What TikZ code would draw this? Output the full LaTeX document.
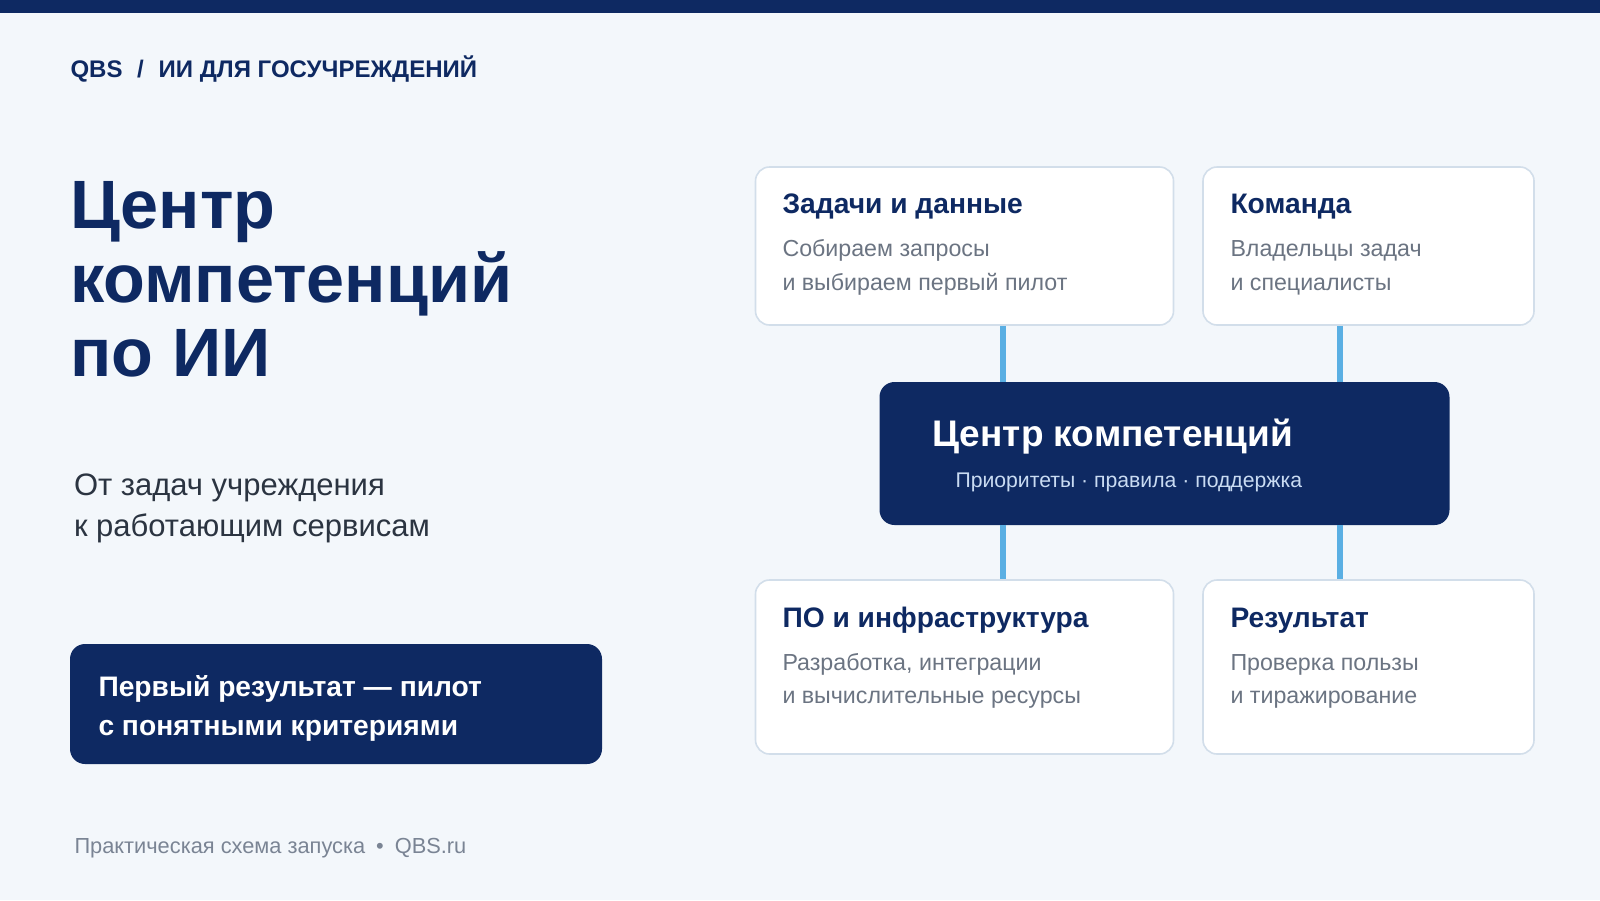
\documentclass[tikz,border=0pt]{standalone}
\usepackage{fontspec}
\setmainfont{Liberation Sans}
\definecolor{navy}{HTML}{0E2962}
\definecolor{bgc}{HTML}{F3F7FB}
\definecolor{edge}{HTML}{D2DEEA}
\definecolor{linkc}{HTML}{5AAFE3}
\definecolor{greytx}{HTML}{6B7482}
\definecolor{subtx}{HTML}{2B3441}
\definecolor{foottx}{HTML}{7A8494}
\definecolor{paletx}{HTML}{C9DBF2}
\newcommand{\fs}[2]{\fontsize{#1}{#2}\selectfont}
\begin{document}
\begin{tikzpicture}[x=1pt,y=-1pt,
  card/.style={draw=edge,line width=1.6pt,fill=white,rounded corners=14pt,inner sep=0pt},
  darkbox/.style={fill=navy,rounded corners=15pt,inner sep=0pt},
  link/.style={draw=linkc,line width=5.5pt},
  txt/.style={anchor=base west,inner sep=0pt,outer sep=0pt},
  cardtitle/.style={txt,text=navy,font=\bfseries\fs{28.2}{32}},
  cardtext/.style={txt,text=greytx,font=\fs{23.2}{27}}]
\useasboundingbox (0,0) rectangle (1600,900);
\fill[bgc] (0,0) rectangle (1600,900);
\fill[navy] (0,0) rectangle (1600,12.5);

% breadcrumb
\node[txt,text=navy,font=\bfseries\fs{24}{28}] (crumb) at (70.5,77) {QBS\hspace{14.5pt}/\hspace{15pt}ИИ ДЛЯ ГОСУЧРЕЖДЕНИЙ};

% title
\node[txt,text=navy,font=\bfseries\fs{68.4}{76}] (ttl1) at (70,228) {Центр};
\node[txt,text=navy,font=\bfseries\fs{68.4}{76}] (ttl2) at (70,302) {компетенций};
\node[txt,text=navy,font=\bfseries\fs{68.4}{76}] (ttl3) at (70,376) {по ИИ};

% subtitle
\node[txt,text=subtx,font=\fs{31}{36}] (sub1) at (74,495) {От задач учреждения};
\node[txt,text=subtx,font=\fs{31}{36}] (sub2) at (74,536) {к работающим сервисам};

% left dark box
\node[darkbox,minimum width=532pt,minimum height=120pt] (pilot) at (336,704) {};
\node[txt,text=white,font=\bfseries\fs{28.2}{32}] (pil1) at (98.5,696) {Первый результат — пилот};
\node[txt,text=white,font=\bfseries\fs{28.2}{32}] (pil2) at (98.5,735) {с понятными критериями};

% footer
\node[txt,text=foottx,font=\fs{21.8}{26}] (foot) at (74.5,853) {Практическая схема запуска\hspace{11pt}•\hspace{11pt}QBS.ru};

% cards
\node[card,minimum width=418pt,minimum height=158pt] (tasks) at (964.5,246) {};
\node[card,minimum width=331pt,minimum height=158pt] (team) at (1368.5,246) {};
\node[card,minimum width=418pt,minimum height=174pt] (infra) at (964.5,667) {};
\node[card,minimum width=331pt,minimum height=174pt] (result) at (1368.5,667) {};
\node[darkbox,minimum width=570pt,minimum height=143pt] (core) at (1164.5,453.5) {};

% connectors
\coordinate (xl) at (1003,0);
\coordinate (xr) at (1340,0);
\draw[link] (tasks.south -| xl) -- (core.north -| xl);
\draw[link] (team.south -| xr) -- (core.north -| xr);
\draw[link] (core.south -| xl) -- (infra.north -| xl);
\draw[link] (core.south -| xr) -- (result.north -| xr);

% card texts
\node[cardtitle] (tasksT) at (782.5,213) {Задачи и данные};
\node[cardtext] (tasks1) at (782.5,256) {Собираем запросы};
\node[cardtext] (tasks2) at (782.5,290) {и выбираем первый пилот};

\node[cardtitle] (teamT) at (1230.5,213) {Команда};
\node[cardtext] (team1) at (1230.5,256) {Владельцы задач};
\node[cardtext] (team2) at (1230.5,290) {и специалисты};

\node[cardtitle] (infraT) at (782.5,627) {ПО и инфраструктура};
\node[cardtext] (infra1) at (782.5,670) {Разработка, интеграции};
\node[cardtext] (infra2) at (782.5,703) {и вычислительные ресурсы};

\node[cardtitle] (resultT) at (1230.5,627) {Результат};
\node[cardtext] (result1) at (1230.5,670) {Проверка пользы};
\node[cardtext] (result2) at (1230.5,703) {и тиражирование};

% core texts
\node[txt,text=white,font=\bfseries\fs{37}{42}] (coreT) at (932.5,446) {Центр компетенций};
\node[txt,text=paletx,font=\fs{21.2}{25}] (coreS) at (955.5,487) {Приоритеты · правила · поддержка};
\end{tikzpicture}
\end{document}
